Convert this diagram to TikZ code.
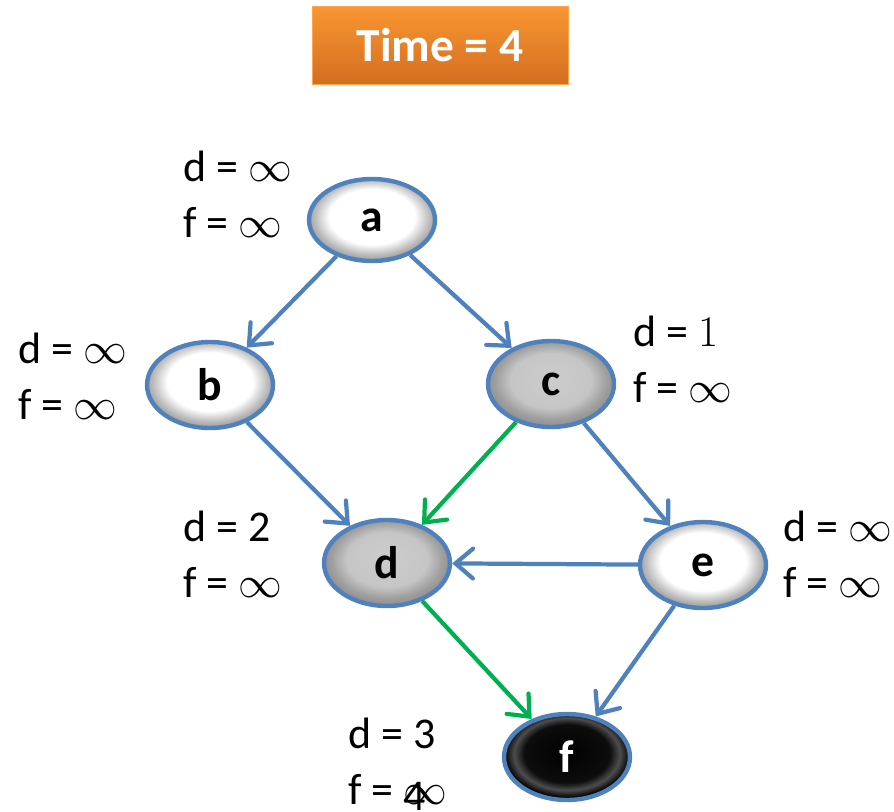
\documentclass[tikz,border=0pt]{standalone}
\usepackage{fontspec}
\setmainfont{Carlito}
\usetikzlibrary{shapes.geometric, arrows.meta}

\definecolor{edgeblue}{RGB}{79,129,189}
\definecolor{edgegreen}{RGB}{0,176,80}
\definecolor{orangetop}{RGB}{250,150,50}
\definecolor{orangebot}{RGB}{212,110,32}

% white / grey / black fills, lighter in the middle, darker ring at the rim
\pgfdeclareradialshading{whiteball}{\pgfpoint{0bp}{3bp}}{color(0bp)=(white);
  color(17bp)=(white); color(23bp)=(gray!55); color(25bp)=(gray!70); color(50bp)=(gray!70)}
\pgfdeclareradialshading{grayball}{\pgfpoint{0bp}{3bp}}{color(0bp)=(gray!40);
  color(16bp)=(gray!45); color(22bp)=(gray!75); color(25bp)=(gray!85); color(50bp)=(gray!85)}
\pgfdeclareradialshading{blackball}{\pgfpoint{0bp}{3bp}}{color(0bp)=(black);
  color(17bp)=(black!95); color(21bp)=(black!70); color(25bp)=(black); color(50bp)=(black)}

\tikzset{
  vertex/.style={ellipse, draw=edgeblue, line width=2.5pt, minimum width=2.52cm,
    minimum height=1.72cm, inner sep=0pt, font=\fontsize{26pt}{28pt}\selectfont\bfseries},
  whitevertex/.style={vertex, shading=whiteball},
  grayvertex/.style={vertex, shading=grayball},
  blackvertex/.style={vertex, shading=blackball, text=white}
}
\tikzset{
  lbl/.style={anchor=west, align=left, inner sep=0pt,
    font=\fontsize{25pt}{32pt}\selectfont}
}
\tikzset{
  bedge/.style={->, draw=edgeblue, line width=2.4pt},
  gedge/.style={->, draw=edgegreen, line width=2.4pt}
}

\begin{document}
\begin{tikzpicture}[x=0.02cm, y=-0.02cm,
    >={Straight Barb[length=10pt, width=17pt, line cap=round]}]
      \useasboundingbox (0,0) rectangle (894,812);

      % title box
      \node[rectangle, top color=orangetop, bottom color=orangebot, draw=orange!70,
        minimum width=5.12cm, minimum height=1.56cm, text=white,
        font=\fontsize{27pt}{28pt}\selectfont\bfseries] (time) at (440,45) {Time = 4};

      % vertices
      \node[whitevertex, minimum height=1.64cm] (a) at (372,220) {a};
      \node[whitevertex] (b) at (210,385) {b};
      \node[grayvertex] (c) at (551,384) {c};
      \node[grayvertex] (d) at (387,563) {d};
      \node[whitevertex] (e) at (703,565) {e};
      \node[blackvertex] (f) at (567,757) {f};

      % discovery / finishing times
      \node[lbl] (la) at (183,194) {d = $\infty$\\f = $\infty$};
      \node[lbl] (lb) at (18,376) {d = $\infty$\\f = $\infty$};
      \node[lbl] (lc) at (633,359) {d = $1$\\f = $\infty$};
      \node[lbl] (ld) at (183,554) {d = 2\\f = $\infty$};
      \node[lbl] (le) at (783,554) {d = $\infty$\\f = $\infty$};
      \node[lbl] (lf) at (348,764) {d = 3\\f = \rlap{\raisebox{-3pt}{4}}$\infty$};

      % edges (green ones are on the current path)
      \draw[bedge] (a) -- (b);
      \draw[bedge] (a) -- (c);
      \draw[bedge] (b) -- (d);
      \draw[gedge] (c) -- (d);
      \draw[bedge] (c) -- (e);
      \draw[bedge] (e) -- (d);
      \draw[gedge] (d) -- (f);
      \draw[bedge] (e) -- (f);
    \end{tikzpicture}
\end{document}
